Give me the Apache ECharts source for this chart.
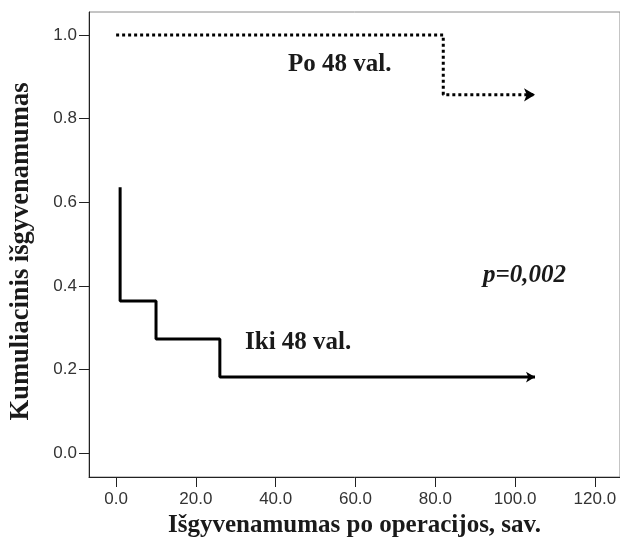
<!DOCTYPE html>
<html>
<head>
<meta charset="utf-8">
<script src="https://cdn.jsdelivr.net/npm/echarts@6/dist/echarts.min.js"></script>
<style>
  html, body { margin: 0; padding: 0; background: #fff; }
  #chart { width: 620px; height: 545px; }
</style>
</head>
<body>
<div id="chart"></div>
<script>
// Kaplan-Meier kreives (laikas, savaitemis / kumuliacinis isgyvenamumas)
var poTime = [0, 82, 82, 105];
var poSurv = [1.0, 1.0, 0.857, 0.857];
var ikiTime = [1, 1, 10, 10, 26, 26, 105];
var ikiSurv = [0.636, 0.364, 0.364, 0.273, 0.273, 0.182, 0.182];
var xTicks = [0, 20, 40, 60, 80, 100, 120];
var yTicks = [0, 0.2, 0.4, 0.6, 0.8, 1.0];

var serif = '"Liberation Serif", "Times New Roman", serif';
var sans = '"Liberation Sans", Arial, sans-serif';

function kmData(times, surv) {
    var last = times.length - 1;
    return times.map(function (t, i) {
        return {
            value: [t, surv[i]],
            symbol: i === last ? 'arrow' : 'none'
        };
    });
}

var chart = echarts.init(document.getElementById('chart'));
chart.setOption({
    animation: false,
    grid: {
        left: 89, top: 12, right: 0, bottom: 68,
        outerBoundsMode: 'none',
        show: true,
        borderColor: '#8a8a8a',
        borderWidth: 1
    },
    xAxis: {
        type: 'value',
        min: -6.8,
        max: 126.3,
        name: 'Išgyvenamumas po operacijos, sav.',
        nameLocation: 'middle',
        nameGap: 31,
        nameTextStyle: { fontFamily: serif, fontWeight: 'bold', fontSize: 25, color: '#1a1a1a' },
        splitLine: { show: false },
        axisLine: { onZero: false, lineStyle: { color: '#222', width: 1 } },
        axisTick: { customValues: xTicks, length: 10, lineStyle: { color: '#222' } },
        axisLabel: {
            customValues: xTicks,
            margin: 14,
            fontFamily: sans,
            fontSize: 17,
            color: '#333',
            formatter: function (v) { return v.toFixed(1); }
        }
    },
    yAxis: {
        type: 'value',
        min: -0.057,
        max: 1.055,
        name: 'Kumuliacinis išgyvenamumas',
        nameLocation: 'middle',
        nameGap: 54,
        nameTextStyle: {
            fontFamily: serif, fontWeight: 'bold', fontSize: 26.5, color: '#1a1a1a',
            padding: [0, 14, 0, 0]
        },
        splitLine: { show: false },
        axisLine: { show: true, onZero: false, lineStyle: { color: '#222', width: 1 } },
        axisTick: { show: true, customValues: yTicks, length: 10, lineStyle: { color: '#222' } },
        axisLabel: {
            customValues: yTicks,
            margin: 12,
            fontFamily: sans,
            fontSize: 17,
            color: '#333',
            formatter: function (v) { return v.toFixed(1); }
        }
    },
    series: [
        {
            name: 'Po 48 val.',
            type: 'line',
            data: kmData(poTime, poSurv),
            symbolSize: [10, 11],
            symbolRotate: -90,
            itemStyle: { color: '#000' },
            lineStyle: { color: '#000', width: 3, type: [3, 3] }
        },
        {
            name: 'Iki 48 val.',
            type: 'line',
            data: kmData(ikiTime, ikiSurv),
            symbolSize: [8, 9],
            symbolRotate: -90,
            itemStyle: { color: '#000' },
            lineStyle: { color: '#000', width: 3 }
        }
    ],
    graphic: [
        {
            type: 'text', left: 288, top: 52,
            style: { text: 'Po 48 val.', font: 'bold 25px ' + serif, fill: '#1a1a1a' }
        },
        {
            type: 'text', left: 245, top: 330,
            style: { text: 'Iki 48 val.', font: 'bold 25px ' + serif, fill: '#1a1a1a' }
        },
        {
            type: 'text', left: 483, top: 263,
            style: { text: 'p=0,002', font: 'italic bold 25px ' + serif, fill: '#1a1a1a' }
        }
    ]
});
</script>
</body>
</html>
